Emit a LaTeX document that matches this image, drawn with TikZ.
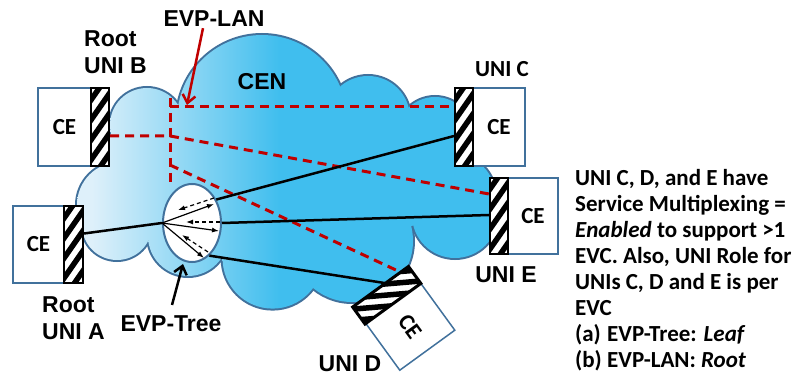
\documentclass[tikz,border=0pt]{standalone}
\usepackage{fontspec}
\setmainfont{Liberation Sans}
\newfontfamily\carl{Carlito}
\usetikzlibrary{shapes.geometric,arrows.meta,calc}
\definecolor{cL}{RGB}{222,240,250}
\definecolor{cD}{RGB}{64,190,238}
\definecolor{edgeblue}{RGB}{65,113,156}
\definecolor{lanred}{RGB}{192,0,0}
\pgfdeclarehorizontalshading{cloudsh}{100bp}{color(0bp)=(cL); color(27bp)=(cL); color(49bp)=(cD); color(100bp)=(cD)}
\begin{document}
\begin{tikzpicture}[x=1pt,y=-1pt,
  cebox/.style={draw=edgeblue, line width=1.5pt, fill=white, inner sep=0pt,
    font=\carl\bfseries\fontsize{23}{23}\selectfont},
  hatchbar/.style={draw=black, line width=2pt, fill=white, inner sep=0pt},
  stripes/.style={path picture={
    \begin{scope}[shift={(path picture bounding box.center)}]
      \foreach \k in {-60,-40,...,60} \draw[line width=5.5pt] (-16,\k+23) -- (16,\k-23);
    \end{scope}}},
  lbl/.style={font=\bfseries\fontsize{23}{27}\selectfont, inner sep=0pt},
  clbl/.style={font=\carl\bfseries\fontsize{23}{27}\selectfont, inner sep=0pt},
  note/.style={font=\carl\bfseries\fontsize{23}{26}\selectfont, anchor=base west, inner sep=0pt},
  lan/.style={lanred, line width=3pt, dash pattern=on 9pt off 6pt},
  blk/.style={black, line width=2.5pt},
  tarrow/.style={black, line width=1.2pt, -{Latex[length=7pt,width=5pt]}},
  tdash/.style={black, line width=1.2pt, dash pattern=on 4pt off 3pt, -{Latex[length=7pt,width=5pt]}}
]
\fill[white] (0,0) rectangle (807,390);
\useasboundingbox (0,0) rectangle (807,390);

% ---- cloud ----
\def\circlist{147/125/37, 262/120/85, 368/118/42, 435/135/38, 455/195/40, 455/215/43,
  352/241/61, 272.6/258.6/50, 188/236/40, 117/225/35, 120/205/43, 130/150/25}
\foreach \cx/\cy/\r in \circlist {
  \draw[edgeblue, line width=4pt] (\cx,\cy) circle[radius=\r];
}
\foreach \cx/\cy/\r in \circlist {
  \begin{scope}
    \clip (\cx,\cy) circle[radius=\r];
    \shade[shading=cloudsh] (75,30) rectangle (500,315);
  \end{scope}
}
\begin{scope}
  \clip (147,125) -- (262,120) -- (368,118) -- (435,135) -- (455,195) -- (455,215)
    -- (352,241) -- (272.6,258.6) -- (188,236) -- (117,225) -- (120,205) -- (130,150) -- cycle;
  \shade[shading=cloudsh] (75,30) rectangle (500,315);
\end{scope}

% ---- CE boxes and hatched UNIs ----
\node[cebox, minimum width=53, minimum height=78] (ceB) at (64.5,127) {CE};
\node[hatchbar, stripes, minimum width=18, minimum height=78] (hB) at (100,127) {};
\node[cebox, minimum width=51, minimum height=77] (ceA) at (38.5,244.5) {CE};
\node[hatchbar, stripes, minimum width=19, minimum height=77] (hA) at (73.5,244.5) {};
\node[cebox, minimum width=52, minimum height=78] (ceC) at (499,127) {CE};
\node[hatchbar, stripes, minimum width=18, minimum height=78] (hC) at (464,127) {};
\node[cebox, minimum width=50, minimum height=76] (ceE) at (533,216) {CE};
\node[hatchbar, stripes, minimum width=18, minimum height=76] (hE) at (499,216) {};
\node[cebox, minimum width=58, minimum height=68, rotate=-54] (ceD) at (410.25,326.75) {CE};
\node[hatchbar, minimum width=20, minimum height=68, rotate=-54] (hD) at (386.75,295.25) {};
\begin{scope}
  \clip (hD.north west) -- (hD.north east) -- (hD.south east) -- (hD.south west) -- cycle;
  \foreach \k in {-5,...,5} \draw[line width=5.5pt] (340,295+\k*11.2+4) -- (435,295+\k*11.2-4);
\end{scope}
\draw[black, line width=2pt] (hD.north west) -- (hD.north east) -- (hD.south east) -- (hD.south west) -- cycle;

% ---- EVP-LAN (red dashed) ----
\coordinate (j1) at (170,98);
\coordinate (j2) at (170,107);
\coordinate (j3) at (170,136);
\coordinate (j4) at (170,165);
\coordinate (j5) at (170,185);
\draw[lan] (j1) -- (j5);
\draw[lan] (j2) -- (j2 -| hC.west);
\draw[lan] (j3 -| hB.east) -- (j3) -- ($(hE.west)+(0,-22)$);
\draw[lan] (j4) -- ($(hD.north west)!0.15!(hD.south west)$);

% ---- EVP-Tree ----
\node[draw=edgeblue, line width=2pt, fill=white, ellipse, minimum width=58, minimum height=78, inner sep=0pt] (tree) at (192,223) {};
\draw[blk] ($(hA.east)+(0,-11)$) -- (tree.west);
\draw[blk] (tree.44) -- ($(hC.west)+(0,9)$);
\draw[blk] (tree.east) -- ($(hE.west)+(0,-1)$);
\draw[blk] (tree.-62) -- ($(hD.north west)!0.42!(hD.south west)$);
\draw[tarrow] (tree.west) -- ($(tree.center)+(22,-19)$);
\draw[tarrow] (tree.west) -- ($(tree.center)+(27,8)$);
\draw[tarrow] (tree.west) -- ($(tree.center)+(12,35)$);
\draw[tdash] ($(tree.center)+(22,-25)$) -- ($(tree.center)+(-14,-13)$);
\draw[tdash] ($(tree.center)+(28,-1)$) -- ($(tree.center)+(-6,-1)$);
\draw[tdash] ($(tree.center)+(16,29)$) -- ($(tree.center)+(-10,12)$);

% ---- labels ----
\node[lbl, anchor=base] (lanlbl) at (214,27) {EVP-LAN};
\node[lbl, anchor=base west] (rootB) at (84,47) {Root};
\node[lbl, anchor=base west] (uniB) at (84,74) {UNI B};
\node[lbl, anchor=base] (cen) at (262,90) {CEN};
\node[clbl, anchor=base] (uniC) at (502,77) {UNI C};
\node[lbl, anchor=base] (uniE) at (506,283) {UNI E};
\node[lbl, anchor=base] (uniD) at (350,372) {UNI D};
\node[lbl, anchor=base west] (rootA) at (42,313) {Root};
\node[lbl, anchor=base west] (uniA) at (42,340) {UNI A};
\node[lbl, anchor=base] (treelbl) at (171,332) {EVP-Tree};

\coordinate (lanTip) at (187,105);
\draw[lanred, line width=2.5pt, -{Straight Barb[length=8pt,width=13pt]}] ($(lanlbl.south)+(-11,1)$) -- (lanTip);
\coordinate (treeTip) at (183,264);
\draw[black, line width=2.5pt, -{Straight Barb[length=8pt,width=13pt]}] ($(treelbl.north)+(1,-11)$) -- (treeTip);

% ---- note ----
\node[note] (n1) at (575,186) {UNI C, D, and E have};
\node[note] (n2) at (575,212) {Service Multiplexing =};
\node[note] (n3) at (575,238) {\textit{Enabled} to support >1};
\node[note] (n4) at (575,264) {EVC. Also, UNI Role for};
\node[note] (n5) at (575,290) {UNIs C, D and E is per};
\node[note] (n6) at (575,316) {EVC};
\node[note] (n7) at (575,342) {\makebox[32pt][l]{(a)}EVP-Tree: \textit{Leaf}};
\node[note] (n8) at (575,368) {\makebox[32pt][l]{(b)}EVP-LAN: \textit{Root}};
\end{tikzpicture}
\end{document}
